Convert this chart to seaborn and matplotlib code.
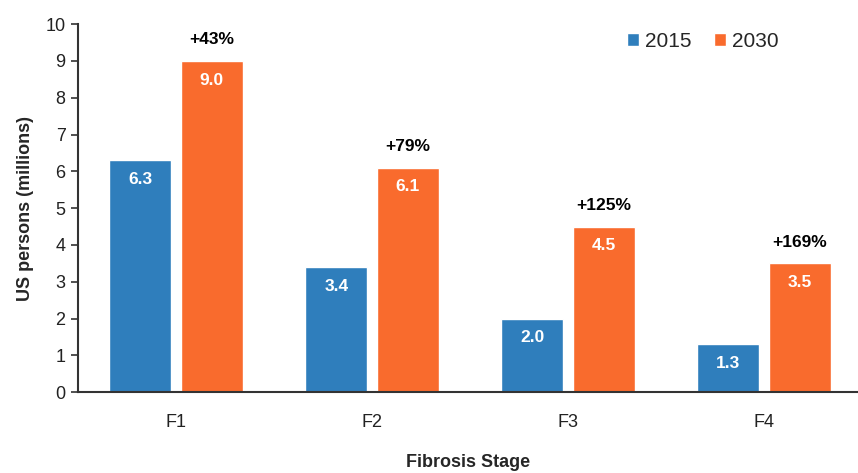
import pandas as pd
import numpy as np
import seaborn as sns
import matplotlib.pyplot as plt

# данные с картинки
stages = ['F1', 'F2', 'F3', 'F4']
years = ['2015', '2030']
vals_2015 = [6.3, 3.4, 2.0, 1.3]
vals_2030 = [9.0, 6.1, 4.5, 3.5]
growth = ['+43%', '+79%', '+125%', '+169%']

BLUE = '#2f7ebc'
ORANGE = '#f96b2d'
FONT_SIZE = 13

sns.set_theme(style='white')
plt.rcParams['font.family'] = ['Liberation Sans', 'DejaVu Sans']

df = pd.DataFrame({
    'stage': stages * 2,
    'year': [years[0]] * 4 + [years[1]] * 4,
    'value': vals_2015 + vals_2030,
})

fig = plt.figure(figsize=(8.58, 4.73), dpi=100)
ax = fig.add_axes([0.091, 0.171, 0.909, 0.778])

sns.barplot(data=df, x='stage', y='value', hue='year', order=stages,
            hue_order=years, palette=[BLUE, ORANGE], width=0.73, gap=0.13,
            saturation=1, ax=ax)

# подписи значений внутри столбцов
for cont in ax.containers:
    for bar in cont:
        h = bar.get_height()
        ax.text(bar.get_x() + bar.get_width() / 2, h - 0.52, '%.1f' % h,
                ha='center', va='center', color='white', fontsize=FONT_SIZE - 0.5,
                fontweight='bold')

# прирост над оранжевыми столбцами
for bar, g in zip(ax.containers[1], growth):
    ax.text(bar.get_x() + bar.get_width() / 2, bar.get_height() + 0.57, g,
            ha='center', va='center', color='black', fontsize=FONT_SIZE - 0.5,
            fontweight='bold')

ax.set_ylim(0, 10)
ax.set_xlim(-0.5, 3.48)
ax.set_yticks(np.arange(0, 11, 1))
ax.tick_params(axis='y', which='both', left=True, length=5, width=1.2,
               color='#333333', labelsize=FONT_SIZE, labelcolor='#222222', pad=4)
ax.tick_params(axis='x', bottom=False, labelsize=FONT_SIZE, labelcolor='#222222', pad=10)
for s in ['top', 'right']:
    ax.spines[s].set_visible(False)
for s in ['left', 'bottom']:
    ax.spines[s].set_color('#333333')
    ax.spines[s].set_linewidth(1.5)

ax.set_ylabel('US persons (millions)', fontsize=FONT_SIZE, fontweight='bold',
              labelpad=8)
ax.set_xlabel('Fibrosis Stage', fontsize=FONT_SIZE, fontweight='bold')
ax.xaxis.set_label_coords(0.5, -0.168)

ax.legend(loc='upper left', bbox_to_anchor=(0.68, 1.03), ncol=2, frameon=False,
          fontsize=15, handlelength=0.55, handleheight=0.55,
          handletextpad=0.3, columnspacing=1.1)

fig.savefig('out.png', dpi=100)
